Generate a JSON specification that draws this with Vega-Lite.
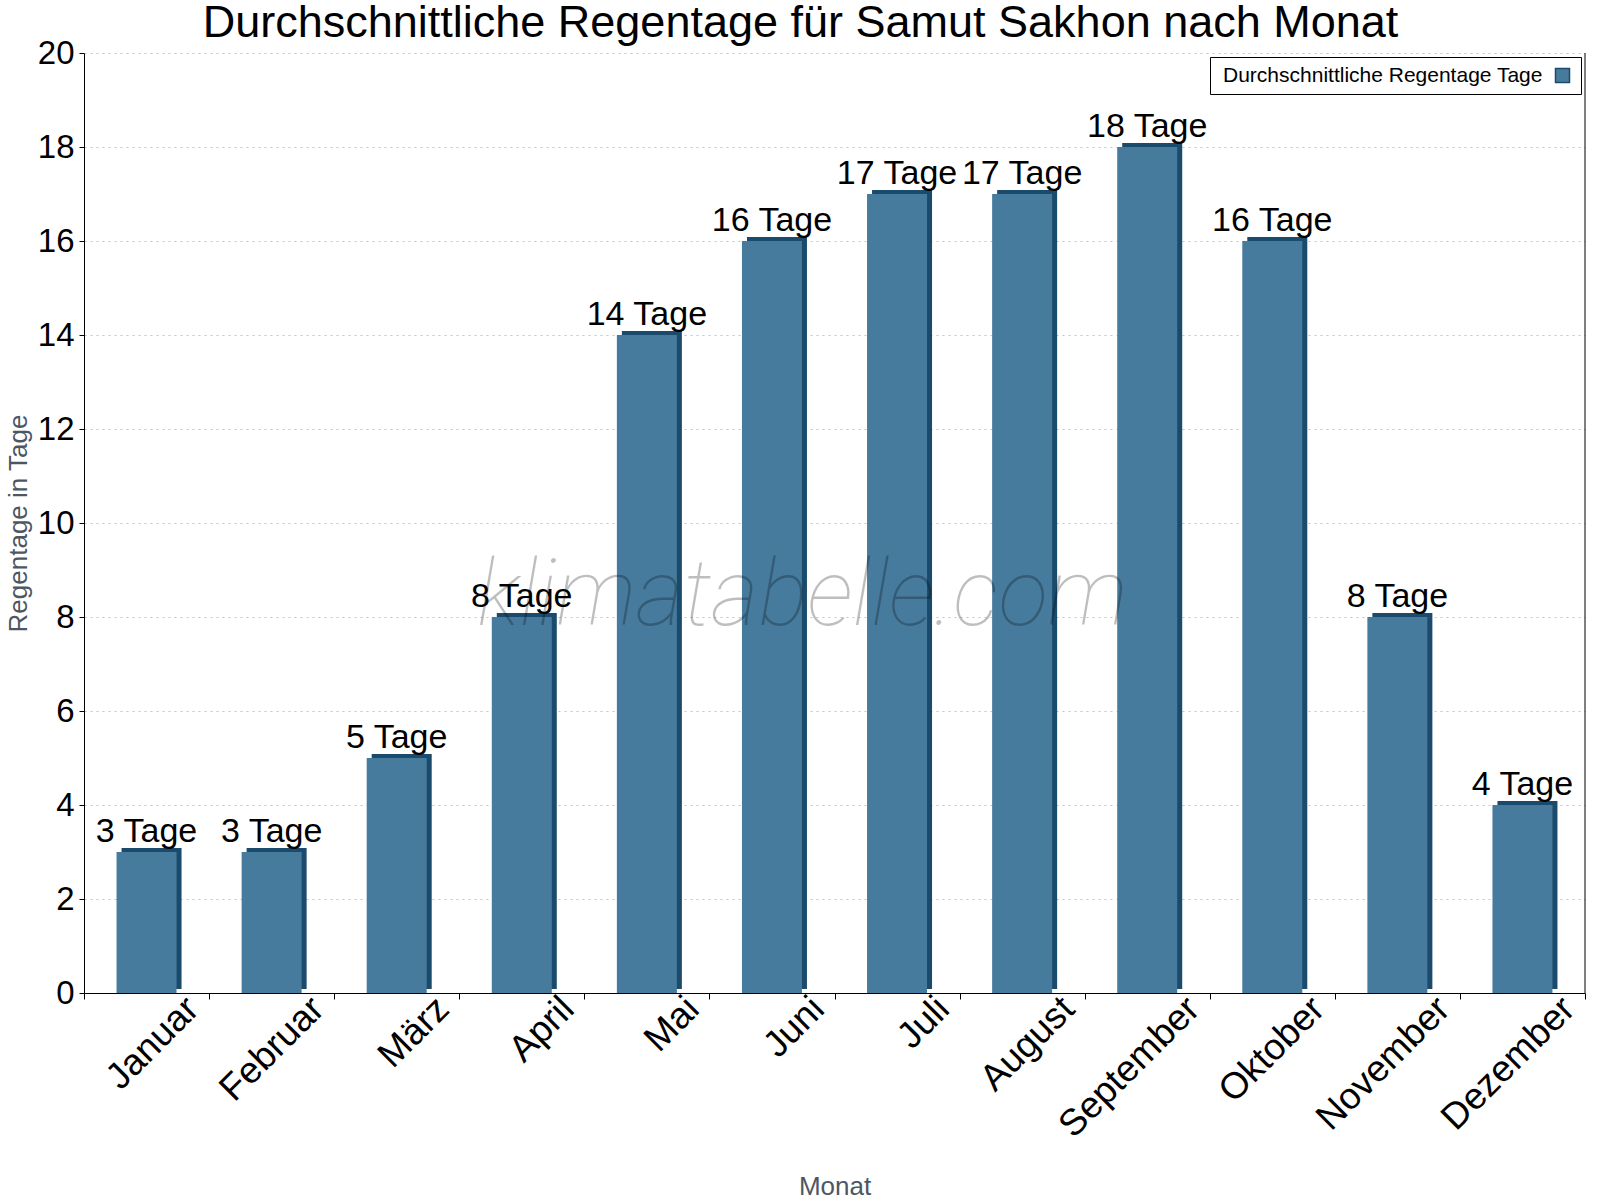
{
  "$schema": "https://vega.github.io/schema/vega-lite/v6.json",
  "width": 1501,
  "height": 940,
  "autosize": {"type": "none"},
  "padding": {"left": 84, "top": 53, "right": 15, "bottom": 207},
  "background": "white",
  "config": {"view": {"stroke": null}, "font": "Liberation Sans"},
  "title": {
    "text": "Durchschnittliche Regentage für Samut Sakhon nach Monat",
    "font": "Liberation Sans",
    "fontSize": 45,
    "fontWeight": "normal",
    "color": "black",
    "anchor": "middle",
    "dx": -34,
    "offset": -45,
    "baseline": "alphabetic"
  },
  "datasets": {
    "rain": [
      {"month": "Januar", "days": 3, "label": "3 Tage"},
      {"month": "Februar", "days": 3, "label": "3 Tage"},
      {"month": "März", "days": 5, "label": "5 Tage"},
      {"month": "April", "days": 8, "label": "8 Tage"},
      {"month": "Mai", "days": 14, "label": "14 Tage"},
      {"month": "Juni", "days": 16, "label": "16 Tage"},
      {"month": "Juli", "days": 17, "label": "17 Tage"},
      {"month": "August", "days": 17, "label": "17 Tage"},
      {"month": "September", "days": 18, "label": "18 Tage"},
      {"month": "Oktober", "days": 16, "label": "16 Tage"},
      {"month": "November", "days": 8, "label": "8 Tage"},
      {"month": "Dezember", "days": 4, "label": "4 Tage"}
    ],
    "mark": [{"t": "klimatabelle.com"}]
  },
  "data": {"name": "rain"},
  "layer": [
    {
      "mark": {"type": "bar", "color": "#1B4B6C", "width": 60, "xOffset": 5, "yOffset": -4},
      "encoding": {
        "x": {
          "field": "month",
          "type": "nominal",
          "sort": null,
          "scale": {"paddingInner": 0, "paddingOuter": 0},
          "axis": {
            "title": "Monat",
            "titleFont": "Liberation Sans",
            "titleFontSize": 26,
            "titleFontWeight": "normal",
            "titleColor": "#4d5763",
            "titleY": 201,
            "titleBaseline": "alphabetic",
            "labelFont": "Liberation Sans",
            "labelFontSize": 37,
            "labelColor": "black",
            "labelAngle": -45,
            "labelAlign": "right",
            "labelBaseline": "middle",
            "labelOffset": 46,
            "labelPadding": 4,
            "labelLimit": 0,
            "tickBand": "extent",
            "tickSize": 6,
            "tickColor": "black",
            "domainColor": "black",
            "grid": false
          }
        },
        "y": {
          "field": "days",
          "type": "quantitative",
          "scale": {"domain": [0, 20], "nice": false},
          "axis": {
            "title": "Regentage in Tage",
            "titleFont": "Liberation Sans",
            "titleFontSize": 26,
            "titleFontWeight": "normal",
            "titleColor": "#4d5763",
            "titlePadding": 6,
            "labelFont": "Liberation Sans",
            "labelFontSize": 33,
            "labelColor": "black",
            "labelPadding": 5,
            "values": [0, 2, 4, 6, 8, 10, 12, 14, 16, 18, 20],
            "tickSize": 5,
            "tickColor": "black",
            "domainColor": "black",
            "grid": true,
            "gridColor": "#c4c4c4",
            "gridDash": [2, 4]
          }
        }
      }
    },
    {
      "mark": {"type": "bar", "width": 60},
      "encoding": {
        "x": {"field": "month", "type": "nominal", "sort": null},
        "y": {"field": "days", "type": "quantitative"},
        "color": {
          "datum": "Durchschnittliche Regentage Tage",
          "type": "nominal",
          "scale": {"range": ["#467B9D"]},
          "legend": {
            "title": null,
            "orient": "top-right",
            "offset": 4,
            "strokeColor": "black",
            "fillColor": "white",
            "padding": 8,
            "labelFont": "Liberation Sans",
            "labelFontSize": 21,
            "labelColor": "black",
            "labelLimit": 0,
            "labelOffset": -350,
            "symbolOffset": 334,
            "symbolType": "square",
            "symbolSize": 196,
            "symbolStrokeColor": "#1B4B6C",
            "symbolStrokeWidth": 1.5,
            "symbolOpacity": 1
          }
        }
      }
    },
    {
      "data": {"name": "mark"},
      "mark": {
        "type": "text",
        "font": "Roboto",
        "fontSize": 92,
        "fontWeight": 100,
        "fontStyle": "italic",
        "color": "black",
        "opacity": 0.25,
        "align": "center",
        "baseline": "alphabetic"
      },
      "encoding": {
        "x": {"datum": "Juni", "type": "nominal", "bandPosition": 0.744},
        "y": {"datum": 7.83, "type": "quantitative"},
        "text": {"field": "t"}
      }
    },
    {
      "mark": {
        "type": "text",
        "font": "Liberation Sans",
        "fontSize": 34,
        "color": "black",
        "baseline": "alphabetic",
        "align": "center",
        "dy": -10
      },
      "encoding": {
        "x": {"field": "month", "type": "nominal", "sort": null},
        "y": {"field": "days", "type": "quantitative"},
        "text": {"field": "label"}
      }
    },
    {
      "data": {"name": "mark"},
      "mark": {"type": "rule", "color": "black", "strokeWidth": 1},
      "encoding": {"x": {"datum": "Dezember", "type": "nominal", "bandPosition": 1}}
    }
  ]
}
